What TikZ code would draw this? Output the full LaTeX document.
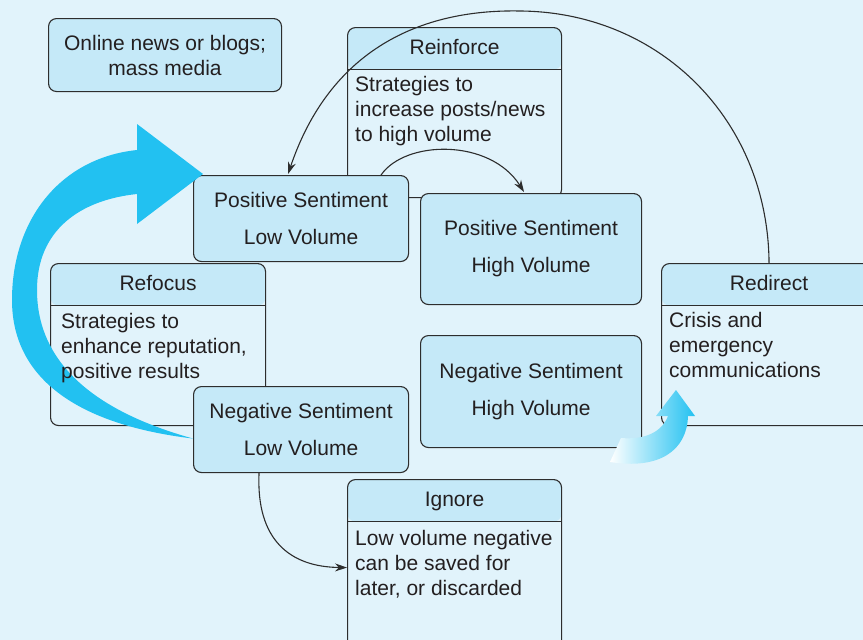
\documentclass[tikz,border=0pt]{standalone}
\usepackage{fontspec}
\setmainfont{Liberation Sans}
\usetikzlibrary{arrows.meta,calc}
\definecolor{bgc}{RGB}{225,243,251}
\definecolor{hdr}{RGB}{197,233,248}
\definecolor{edge}{RGB}{45,45,45}
\definecolor{ink}{RGB}{35,31,32}
\definecolor{cyanarrow}{RGB}{34,193,241}

\begin{document}
\begin{tikzpicture}[x=1pt,y=-1pt,
  box/.style={draw=edge, line width=1.1pt, rounded corners=8pt, fill=hdr,
    inner sep=0pt, anchor=north west},
  tbox/.style={box, fill=bgc,
    path picture={
      \fill[hdr] (path picture bounding box.north west)
        rectangle ([yshift=-42pt]path picture bounding box.north east);
      \draw[edge, line width=1.1pt]
        ([yshift=-42pt]path picture bounding box.north west)
        -- ([yshift=-42pt]path picture bounding box.north east);}},
  txt/.style={font=\fontsize{21}{25}\selectfont, text=ink, inner sep=0pt},
  pair/.style={font=\fontsize{21}{37}\selectfont, text=ink, inner sep=0pt, align=center},
  title/.style={txt, anchor=base},
  body/.style={txt, anchor=north west, align=left},
  conn/.style={draw=edge, line width=1.1pt, -{Stealth[length=12pt,width=8pt]}}]

% canvas
\fill[bgc] (0,0) rectangle (863,640);
\useasboundingbox (0,0) rectangle (863,640);

% plain boxes and titled boxes
\node[box, minimum width=233pt, minimum height=73pt] (online) at (48,18) {};
\node[tbox, minimum width=214pt, minimum height=170pt] (reinforce) at (347,27) {};
\node[box, minimum width=215pt, minimum height=86pt] (poslow) at (193,175) {};
\node[box, minimum width=221pt, minimum height=111pt] (poshigh) at (420,193) {};
\node[tbox, minimum width=215pt, minimum height=162pt] (refocus) at (50,263) {};
\node[box, minimum width=215pt, minimum height=86pt] (neglow) at (193,386) {};
\node[box, minimum width=221pt, minimum height=112pt] (neghigh) at (420,335) {};
\node[tbox, minimum width=215pt, minimum height=162pt] (redirect) at (661,263) {};
\node[tbox, minimum width=214pt, minimum height=176pt] (ignore) at (347,479) {};

% texts
\node[txt, align=center] (onlinetext) at (online.center) {Online news or blogs;\\mass media};

\node[title] (reinforcetitle) at ($(reinforce.north)+(0,27)$) {Reinforce};
\node[body] (reinforcebody) at (355,76) {Strategies to\\increase posts/news\\to high volume};

\node[pair] (poslowtext) at (poslow.center) {Positive Sentiment\\Low Volume};
\node[pair] (poshightext) at (poshigh.center) {Positive Sentiment\\High Volume};

\node[title] (refocustitle) at ($(refocus.north)+(0,27)$) {Refocus};

\node[pair] (neglowtext) at (neglow.center) {Negative Sentiment\\Low Volume};
\node[pair] (neghightext) at (neghigh.center) {Negative Sentiment\\High Volume};

\node[title] (redirecttitle) at ($(redirect.north)+(0,27)$) {Redirect};
\node[body] (redirectbody) at (669,312) {Crisis and\\emergency\\communications};

\node[title] (ignoretitle) at ($(ignore.north)+(0,27)$) {Ignore};
\node[body] (ignorebody) at (355,530) {Low volume negative\\can be saved for\\later, or discarded};

% connectors
\draw[conn] (redirect.north) .. controls (768,120) and (660,12) .. (520,11)
  .. controls (420,9) and (330,50) .. ($(poslow.north)+(-13,-1)$);
\draw[conn] ($(poslow.north)+(80,0)$) .. controls (405,140) and (490,138)
  .. ($(poshigh.north)+(-7,-1)$);
\draw[conn] ($(neglow.south)+(-42,0)$) .. controls (256,540) and (290,567) .. (ignore.west);

% large cyan sweep from negative-low up to positive-low
\fill[cyanarrow] ($(poslow.north west)+(10,-1)$) -- (137,124) -- (137,150)
  .. controls (60,158) and (12,220) .. (12,300)
  .. controls (12,380) and (80,425) .. ($(neglow.west)+(0,9)$)
  .. controls (90,410) and (37,360) .. (37,290)
  .. controls (37,230) and (80,200) .. (137,194)
  -- (137,224) -- cycle;

% refocus body text stays readable above the sweep
\node[body] (refocusbody) at (61,313) {Strategies to\\enhance reputation,\\positive results};

% small fading arrow into the redirect box
\shade[left color=white, right color=cyanarrow]
  (676,390) -- (695,416) -- (688,416)
  .. controls (687,450) and (660,470) .. (610,462)
  -- (621,438)
  .. controls (645,440) and (662,432) .. (668,416)
  -- (656,416) -- cycle;
\end{tikzpicture}
\end{document}
